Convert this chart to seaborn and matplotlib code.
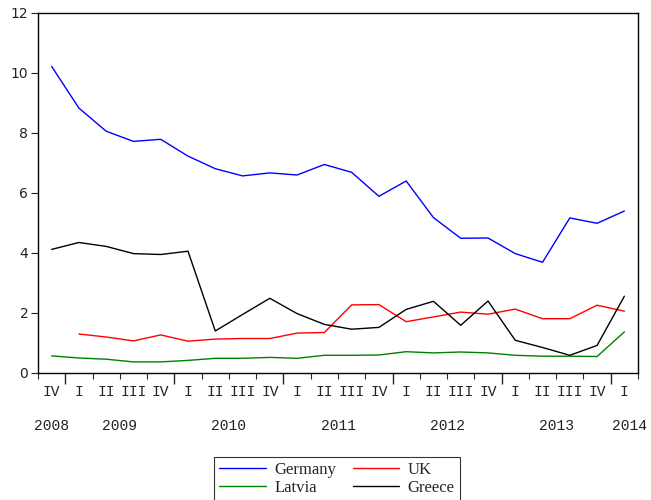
import numpy as np
import pandas as pd
import matplotlib
matplotlib.use("Agg")
import matplotlib.pyplot as plt
import seaborn as sns

# quarters 2008Q4 .. 2014Q1
quarters = ["IV", "I", "II", "III", "IV", "I", "II", "III", "IV", "I", "II",
            "III", "IV", "I", "II", "III", "IV", "I", "II", "III", "IV", "I"]
years = ["2008", "2009", "2010", "2011", "2012", "2013", "2014"]

germany = [10.22, 8.83, 8.06, 7.72, 7.79, 7.23, 6.81, 6.57, 6.67, 6.60, 6.95,
           6.69, 5.89, 6.40, 5.18, 4.49, 4.50, 3.98, 3.69, 5.17, 4.99, 5.40]
uk = [np.nan, 1.30, 1.20, 1.07, 1.27, 1.06, 1.13, 1.15, 1.15, 1.33, 1.35,
      2.27, 2.28, 1.71, 1.87, 2.03, 1.96, 2.13, 1.81, 1.81, 2.26, 2.06]
latvia = [0.57, 0.50, 0.46, 0.37, 0.37, 0.42, 0.49, 0.49, 0.52, 0.49, 0.59,
          0.59, 0.60, 0.71, 0.67, 0.70, 0.67, 0.59, 0.56, 0.56, 0.55, 1.37]
greece = [4.12, 4.35, 4.22, 3.98, 3.95, 4.06, 1.40, 1.95, 2.49, 1.98, 1.62,
          1.46, 1.52, 2.12, 2.39, 1.59, 2.40, 1.09, 0.85, 0.59, 0.92, 2.56]

series = {"Germany": germany, "UK": uk, "Latvia": latvia, "Greece": greece}
colors = {"Germany": "#0000ff", "UK": "#ff0000", "Latvia": "#008000", "Greece": "#000000"}

n = len(quarters)
rows = []
for name, vals in series.items():
    for i, v in enumerate(vals):
        rows.append([i, v, name])
df = pd.DataFrame(rows, columns=["t", "value", "country"])
df = df.dropna()

sns.set_style("white")
plt.rcParams["font.family"] = ["DejaVu Sans"]

fig = plt.figure(figsize=(6.51, 5.0), dpi=100)
ax = fig.add_axes([38 / 651, 127 / 500, 600 / 651, 360 / 500])

sns.lineplot(data=df, x="t", y="value", hue="country", palette=colors,
             hue_order=list(series.keys()), estimator=None, sort=False,
             linewidth=1.0, ax=ax)

ax.set_xlim(-0.5, n - 0.5)
ax.set_ylim(0, 12)
ax.set_xlabel("")
ax.set_ylabel("")
for s in ax.spines.values():
    s.set_color("black")
    s.set_linewidth(1.0)

# y axis
ax.set_yticks(np.arange(0, 13, 2))
ax.tick_params(axis="y", left=True, direction="out", length=5, width=0.8,
               labelsize=10, colors="#222222", pad=2)

# x axis: quarter labels at points, short ticks at quarter boundaries
ax.set_xticks(np.arange(n))
ax.set_xticklabels(quarters, family="Liberation Mono", fontsize=10.5)
ax.tick_params(axis="x", which="major", bottom=True, length=0, pad=9, colors="#222222")
year_starts = [i - 0.5 for i, q in enumerate(quarters) if q == "I"]
minor = [b for b in np.arange(-0.5, n, 1.0) if b not in year_starts]
ax.set_xticks(minor, minor=True)
ax.tick_params(axis="x", which="minor", bottom=True, direction="out", length=4, width=0.8)

# long ticks at year boundaries
sec = ax.secondary_xaxis("bottom")
sec.set_xticks(year_starts)
sec.set_xticklabels([""] * len(year_starts))
sec.tick_params(length=8, width=1.0, direction="out")
sec.spines["bottom"].set_visible(False)

# year labels
year_pos = [0]
for k in range(len(year_starts) - 1):
    year_pos.append((year_starts[k] + year_starts[k + 1]) / 2)
year_pos.append(n - 1 + 0.2)
sec2 = ax.secondary_xaxis("bottom")
sec2.set_xticks(year_pos)
sec2.set_xticklabels(years, family="Liberation Mono", fontsize=10.5)
sec2.tick_params(length=0, pad=33, colors="#222222")
sec2.spines["bottom"].set_visible(False)

# legend
handles, labels = ax.get_legend_handles_labels()
ax.get_legend().remove()
order = [labels.index(k) for k in ["Germany", "Latvia", "UK", "Greece"]]
leg = fig.legend([handles[i] for i in order], [labels[i] for i in order],
                 loc="upper center", bbox_to_anchor=(337 / 651, 1 - 457 / 500),
                 borderaxespad=0, ncol=2, frameon=True, fancybox=False,
                 edgecolor="black",
                 prop={"family": "Liberation Serif", "size": 12},
                 handlelength=2.8, columnspacing=1.0, handletextpad=0.5,
                 borderpad=0.3, labelspacing=0.1)
leg.get_frame().set_linewidth(0.8)

fig.savefig("out.png", dpi=100)
